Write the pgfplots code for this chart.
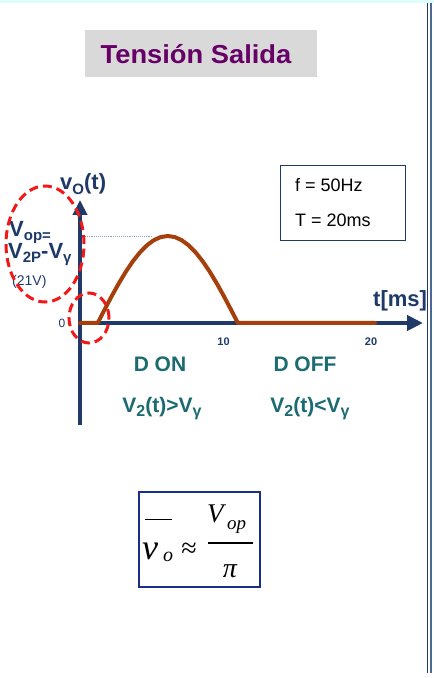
\documentclass[border=0pt]{standalone}
\usepackage{pgfplots}
\pgfplotsset{compat=1.18}
\usepackage{fontspec}
\setmainfont{Liberation Sans}
\newfontfamily\serif{Liberation Serif}
\usetikzlibrary{arrows.meta}

\definecolor{navy}{HTML}{1F3A68}
\definecolor{frameblue}{HTML}{4A6A95}
\definecolor{rust}{HTML}{A5400C}
\definecolor{tealtxt}{HTML}{1B6B70}
\definecolor{plum}{HTML}{660066}
\definecolor{ttlbg}{HTML}{D9D9D9}
\definecolor{topband}{HTML}{DDFDFF}
\definecolor{dots}{HTML}{8FA3BF}
\definecolor{ringred}{HTML}{F01818}

\newcommand{\fs}[1]{\fontsize{#1}{#1}\selectfont}

\begin{document}
\begin{tikzpicture}[x=1pt,y=1pt]
\fill[white] (0,0) rectangle (434,678);

% top band and right frame
\fill[topband] (0,675) rectangle (434,678);
\draw[navy, line width=1.5pt] (427.7,5) -- (427.7,675);
\draw[frameblue, line width=1.2pt] (430.9,5) -- (430.9,675);

% title
\fill[ttlbg] (85,601) rectangle (317,648);
\node[plum, anchor=base, font=\fs{26}\bfseries] at (196,614) {\scalebox{1.05}[1]{Tensión Salida}};

% output voltage of the half-wave rectifier
\begin{axis}[
  at={(80pt,355pt)}, anchor=origin,
  scale only axis, width=343pt, height=225pt,
  xmin=0, xmax=23.25, ymin=-24.6, ymax=29.7,
  axis lines=middle, clip=false,
  axis line style={navy, line width=4.3pt},
  every inner x axis line/.append style={-{Triangle[length=16pt,width=15pt]}},
  every inner y axis line/.append style={-{Triangle[length=15pt,width=14pt]}},
  xtick={10,20}, xticklabels={10,20},
  ytick=\empty,
  major tick length=0pt,
  xticklabel style={font=\fs{11}\bfseries, text=navy, yshift=-11pt, xshift=-4pt},
]
\addplot[dots, densely dotted, line width=0.9pt] coordinates {(0.2,21) (4.95,21)};
\addplot[rust, line width=4pt, line join=round, line cap=round] coordinates {
  (0,0) (1.2,0)
  (1.675,3.285) (2.15,6.489) (2.625,9.534) (3.1,12.343) (3.575,14.849)
  (4.05,16.989) (4.525,18.711) (5.0,19.973) (5.475,20.742) (5.95,21.0)
  (6.425,20.742) (6.9,19.973) (7.375,18.711) (7.85,16.989) (8.325,14.849)
  (8.8,12.343) (9.275,9.534) (9.75,6.489) (10.225,3.285) (10.7,0)
  (20,0)
};
\end{axis}

% axis annotations
\node[navy, anchor=base west, font=\fs{22}\bfseries, inner sep=0] at (60,488)
  {v\raisebox{-0.22em}{\fs{15}O}(t)};
\node[navy, anchor=base west, font=\fs{22}\bfseries, inner sep=0] at (373,371) {t[ms]};
\node[navy, anchor=center, font=\fs{12}, inner sep=0] at (62,355) {0};

\node[navy, anchor=base west, font=\fs{22}\bfseries, inner sep=0] at (9,441)
  {V\raisebox{-0.18em}{\fs{15}op=}};
\node[navy, anchor=base west, font=\fs{22}\bfseries, inner sep=0] at (8,419)
  {V\raisebox{-0.18em}{\fs{15}2P}-V\raisebox{-0.18em}{\fs{15}γ}};
\node[navy, anchor=base west, font=\fs{14}, inner sep=0] at (12,392) {(21V)};

% period information
\draw[navy, line width=1pt] (280,437) rectangle (405,512);
\node[black, anchor=base west, font=\fs{18}, inner sep=0] at (295,486) {f = 50Hz};
\node[black, anchor=base west, font=\fs{18}, inner sep=0] at (295,451) {T = 20ms};

% diode states
\node[tealtxt, anchor=base, font=\fs{21}\bfseries, inner sep=0] at (160,306) {D ON};
\node[tealtxt, anchor=base, font=\fs{21}\bfseries, inner sep=0] at (305,306) {D OFF};
\node[tealtxt, anchor=base, font=\fs{21}\bfseries, inner sep=0] at (162,265)
  {V\raisebox{-0.18em}{\fs{16}2}(t)>V\raisebox{-0.18em}{\fs{16}γ}};
\node[tealtxt, anchor=base, font=\fs{21}\bfseries, inner sep=0] at (310,265)
  {V\raisebox{-0.18em}{\fs{16}2}(t)<V\raisebox{-0.18em}{\fs{16}γ}};

% highlight rings
\draw[ringred, line width=3pt, dash pattern=on 9pt off 5pt] (45,434) ellipse [x radius=39, y radius=58];
\draw[ringred, line width=3pt, dash pattern=on 9pt off 5pt] (89,360) ellipse [x radius=20, y radius=25];

% mean output voltage
\draw[navy!80!blue, line width=1.2pt] (139,91) rectangle (260,186);
\draw[black, line width=1pt] (145,158) -- (172,158);
\node[black, anchor=base west, font=\fs{36}\serif\itshape, inner sep=0] at (142,118) {v};
\node[black, anchor=base west, font=\fs{20}\serif\itshape, inner sep=0] at (163,116) {o};
\node[black, anchor=center, font=\fs{28}\serif, inner sep=0] at (189,128) {≈};
\node[black, anchor=base west, font=\fs{27}\serif\itshape, inner sep=0] at (207,155) {V};
\node[black, anchor=base west, font=\fs{19}\serif\itshape, inner sep=0] at (227,148) {op};
\draw[black, line width=1.2pt] (208,135) -- (253,135);
\node[black, anchor=base, font=\fs{28}\serif\itshape, inner sep=0] at (230,100) {π};

\pgfresetboundingbox
\useasboundingbox (0,0) rectangle (434,678);
\end{tikzpicture}
\end{document}
